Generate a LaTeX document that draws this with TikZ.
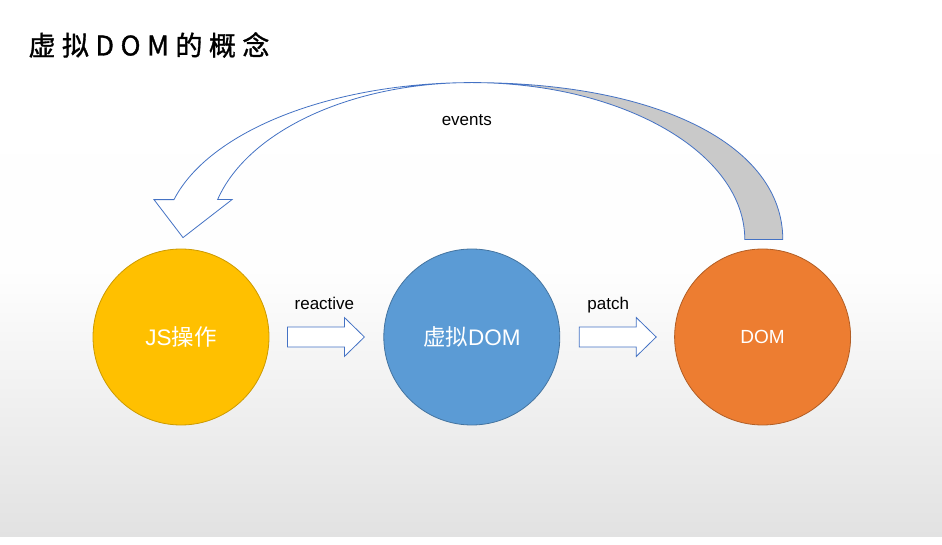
\documentclass[tikz,border=0pt]{standalone}
\usepackage{fontspec}
\setmainfont{Liberation Sans}
\newfontfamily\cjk{Noto Sans CJK SC}
\newfontfamily\titlefont[LetterSpace=24,FakeBold=1.2]{Noto Sans CJK SC}
\usetikzlibrary{positioning,calc}
\definecolor{jsyellow}{HTML}{FFC000}
\definecolor{vdomblue}{HTML}{5B9BD5}
\definecolor{domorange}{HTML}{ED7D31}
\definecolor{arrowblue}{HTML}{4472C4}
\definecolor{ribbongray}{HTML}{C9C9C9}
\definecolor{slidegray}{HTML}{E2E2E2}

\begin{document}
\begin{tikzpicture}[x=1pt,y=1pt,
    ball/.style={circle,draw,line width=0.8pt,minimum size=176pt,inner sep=0pt,
      text=white,font=\fontsize{22.5}{26}\selectfont},
    flow/.style={draw=arrowblue,line width=0.8pt,fill=white,line join=miter},
    lbl/.style={font=\fontsize{17}{20}\selectfont},
    every node/.style={align=center}]

  \useasboundingbox (0,0) rectangle (942,544);
  \fill[white] (0,0) rectangle (942,544);
  \shade[top color=white,bottom color=slidegray,middle color=white!97!slidegray]
    (0,8) rectangle (942,544);

  \node[anchor=west] (title) at (25,499) {\titlefont\fontsize{27}{30}\selectfont 虚拟DOM的概念};

  \newcommand{\gap}{114pt}
  \node[ball,fill=jsyellow,draw=jsyellow!80!black] (js) at (181,207) {JS{\cjk 操作}};
  \node[ball,fill=vdomblue,draw=vdomblue!75!black,right=\gap of js] (vdom) {{\cjk 虚拟}DOM};
  \node[ball,fill=domorange,draw=domorange!75!black,right=\gap of vdom,
    font=\fontsize{19}{22}\selectfont] (dom) {DOM};

  % block arrows between the circles
  \draw[flow] ($(js.east)+(18,0)$) ++(0,10) -- ++(57,0) -- ++(0,9.5) -- ++(20,-19.5)
    -- ++(-20,-19.5) -- ++(0,9.5) -- ++(-57,0) -- cycle;
  \draw[flow] ($(vdom.east)+(19,0)$) ++(0,10) -- ++(57,0) -- ++(0,9.5) -- ++(20,-19.5)
    -- ++(-20,-19.5) -- ++(0,9.5) -- ++(-57,0) -- cycle;
  \node[lbl,anchor=base] (react) at ($(js.east)!0.5!(vdom.west)+(-2,27)$) {reactive};
  \node[lbl,anchor=base] (patch) at ($(vdom.east)!0.5!(dom.west)+(-9,27)$) {patch};

  % curved arrow from DOM back to JS
  \coordinate (evtail) at ($(dom.north)+(0,9)$);
  \coordinate (evc) at (vdom |- evtail);
  \coordinate (evtop) at ($(evc)+(0,157)$);
  \coordinate (evtip) at ($(js.north)+(2,11)$);
  \draw[flow,fill=ribbongray] (evtop)
    .. controls ($(evc)+(187,157)$) and ($(evc)+(311,94)$) .. ($(evc)+(311,0)$)
    -- ++(-38,0) arc[start angle=0,end angle=90,x radius=273,y radius=157] -- cycle;
  \draw[flow] (evtop)
    arc[start angle=90,end angle=165.24,x radius=308,y radius=157] -- ++(-20,0)
    -- (evtip) -- ++(49,38) -- ++(-14.4,0)
    arc[start angle=165.24,end angle=90,x radius=262,y radius=157] -- cycle;
  \node[lbl] (events) at ($(evc)+(-5,120)$) {events};

\end{tikzpicture}
\end{document}
